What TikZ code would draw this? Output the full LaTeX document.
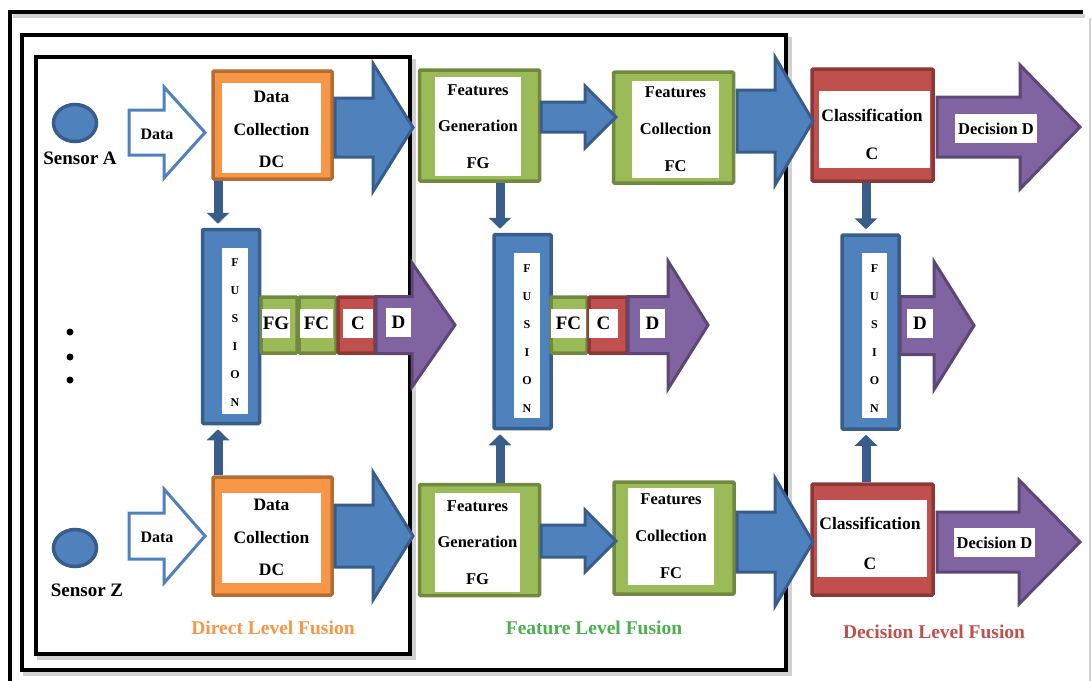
\documentclass[tikz,border=0pt]{standalone}
\usepackage{fontspec}
\setmainfont{Liberation Serif}
\usetikzlibrary{arrows.meta,shapes.geometric}

\definecolor{bluefill}{HTML}{4F81BD}
\definecolor{bluedark}{HTML}{385D8A}
\definecolor{orgfill}{HTML}{F79646}
\definecolor{orgdark}{HTML}{B66D31}
\definecolor{grnfill}{HTML}{9BBB59}
\definecolor{grndark}{HTML}{71893F}
\definecolor{redfill}{HTML}{C0504D}
\definecolor{reddark}{HTML}{8C3836}
\definecolor{purfill}{HTML}{8064A2}
\definecolor{purdark}{HTML}{5C4776}
\definecolor{featgreen}{HTML}{4CAF50}

% block arrow: style, start x, head x, tip x, centre y, body half-height, head half-height
\newcommand\blockarrow[7]{%
  \draw[#1] (#2,#5-#6) -- (#3,#5-#6) -- (#3,#5-#7) -- (#4,#5)
    -- (#3,#5+#7) -- (#3,#5+#6) -- (#2,#5+#6) -- cycle;}

\begin{document}
\begin{tikzpicture}[x=1pt,y=-1pt,
  frameline/.style={draw=black,line width=4pt},
  frameshadow/.style={draw=black!18,line width=4pt},
  bluearr/.style={fill=bluefill,draw=bluedark,line width=3pt},
  purarr/.style={fill=purfill,draw=purdark,line width=3pt},
  dataarr/.style={fill=white,draw=bluefill,line width=3pt},
  obox/.style={fill=orgfill,draw=orgdark,line width=3.5pt,rounded corners=1pt,inner sep=0pt},
  gbox/.style={fill=grnfill,draw=grndark,line width=3.5pt,rounded corners=1pt,inner sep=0pt},
  rbox/.style={fill=redfill,draw=reddark,line width=3.5pt,rounded corners=1pt,inner sep=0pt},
  fbox/.style={fill=bluefill,draw=bluedark,line width=3.5pt,rounded corners=1pt,inner sep=0pt,
    minimum width=57pt,minimum height=194pt},
  wbox/.style={fill=white,inner sep=0pt},
  lbl/.style={font=\bfseries\fontsize{16.5}{#1}\selectfont,align=center,inner sep=0pt},
  clbl/.style={font=\bfseries\fontsize{17.5}{#1}\selectfont,align=center,inner sep=0pt},
  flbl/.style={font=\bfseries\fontsize{12}{28}\selectfont,align=center,inner sep=0pt},
  chip/.style={fill=white,inner sep=0pt,minimum height=29pt,font=\bfseries\fontsize{19}{19}\selectfont},
  sensor/.style={ellipse,fill=bluefill,draw=bluedark,line width=3.5pt,minimum width=43pt,minimum height=37pt},
  sname/.style={fill=white,inner sep=2pt,font=\bfseries\fontsize{19}{19}\selectfont},
  level/.style={font=\bfseries\fontsize{19.5}{19.5}\selectfont},
  link/.style={draw=bluedark,line width=9pt,-{Triangle[width=22pt,length=11pt]}},
  dot/.style={circle,fill=black,inner sep=0pt,minimum size=7pt}
]
\useasboundingbox (0,0) rectangle (1092,680);

% ---- nested frames ----
\draw[frameshadow,line width=2pt] (1090,18) -- (1090,690);
\draw[frameshadow] (13,16) -- (1085,16);
\draw[frameline] (10,690) -- (10,12) -- (1083,12);

\draw[frameshadow] (25,39) rectangle (790,674);
\draw[frameline,fill=white] (22,35) rectangle (786,670);

\draw[frameshadow] (39,61) rectangle (414,658);
\draw[frameline,fill=white] (36,57) rectangle (410,654);

% ---- sensors ----
\node[sensor] (sa) at (75,123) {};
\node[sname] (san) at (80,158) {Sensor A};
\node[sensor] (sz) at (75,548) {};
\node[sname] (szn) at (87,590) {Sensor Z};

\node[dot] (d1) at (70,332) {};
\node[dot] (d2) at (70,357) {};
\node[dot] (d3) at (70,380) {};

% ---- data arrows ----
\blockarrow{dataarr}{129}{164}{205}{132.5}{22.5}{45.5}
\node[font=\bfseries\fontsize{16}{16}\selectfont] (da1) at (157,134) {Data};
\blockarrow{dataarr}{129}{164}{205}{536}{23}{47}
\node[font=\bfseries\fontsize{16}{16}\selectfont] (da2) at (157,537) {Data};

% ---- direct level: data collection ----
\node[obox,minimum width=119pt,minimum height=108pt] (dc1) at (272.5,125) {};
\node[wbox,minimum width=99pt,minimum height=90pt] (dc1w) at (271.5,128) {};
\node[clbl=32.5] (dc1t) at (271.5,129.5) {Data\\Collection\\DC};

\node[obox,minimum width=119pt,minimum height=118pt] (dc2) at (272.5,536) {};
\node[wbox,minimum width=99pt,minimum height=90pt] (dc2w) at (271.5,538) {};
\node[clbl=32.5] (dc2t) at (271.5,537.5) {Data\\Collection\\DC};

% ---- feature level boxes ----
\node[gbox,minimum width=120pt,minimum height=111pt] (fg1) at (479.5,125.5) {};
\node[wbox,minimum width=86pt,minimum height=99pt] (fg1w) at (478,126.5) {};
\node[lbl=36.5] (fg1t) at (478,126.5) {Features\\Generation\\FG};

\node[gbox,minimum width=120pt,minimum height=111pt] (fc1) at (673.5,127.5) {};
\node[wbox,minimum width=87pt,minimum height=97pt] (fc1w) at (675.5,129.5) {};
\node[lbl=37] (fc1t) at (675.5,129) {Features\\Collection\\FC};

\node[gbox,minimum width=120pt,minimum height=111pt] (fg2) at (479.5,540) {};
\node[wbox,minimum width=85pt,minimum height=99pt] (fg2w) at (477.5,542.5) {};
\node[lbl=36.5] (fg2t) at (477.5,542.5) {Features\\Generation\\FG};

\node[gbox,minimum width=120pt,minimum height=112pt] (fc2) at (674,538) {};
\node[wbox,minimum width=86pt,minimum height=97pt] (fc2w) at (671,536.5) {};
\node[lbl=37] (fc2t) at (671,536) {Features\\Collection\\FC};

% ---- decision level boxes ----
\node[rbox,minimum width=121pt,minimum height=112pt] (cl1) at (872.5,125) {};
\node[wbox,minimum width=111pt,minimum height=77pt] (cl1w) at (874.5,129.5) {};
\node[clbl=38] (cl1t) at (872,134) {Classification\\C};

\node[rbox,minimum width=121pt,minimum height=111pt] (cl2) at (872.5,539.5) {};
\node[wbox,minimum width=110pt,minimum height=77pt] (cl2w) at (872,538.5) {};
\node[clbl=40] (cl2t) at (870,543) {Classification\\C};

% ---- block arrows between stages ----
\blockarrow{bluearr}{335}{373}{413}{127.5}{29.5}{64}
\blockarrow{bluearr}{541}{585}{616}{117}{15}{31}
\blockarrow{bluearr}{737}{775}{813}{121}{31}{64}
\blockarrow{purarr}{937}{1020}{1080}{127}{30}{62}
\node[wbox,minimum width=82pt,minimum height=29pt,font=\bfseries\fontsize{16.5}{16.5}\selectfont] (dd1) at (996,128.5) {Decision D};

\blockarrow{bluearr}{335}{373}{413}{536}{31}{64}
\blockarrow{bluearr}{541}{585}{616}{541}{16}{31}
\blockarrow{bluearr}{737}{775}{813}{542}{30}{64}
\blockarrow{purarr}{937}{1019}{1080}{542}{30}{62}
\node[wbox,minimum width=81pt,minimum height=29pt,font=\bfseries\fontsize{16.5}{16.5}\selectfont] (dd2) at (994.5,542.5) {Decision D};

% ---- fusion columns ----
\node[fbox] (fus1) at (231,326.5) {};
\node[wbox,minimum width=26pt,minimum height=166pt] (fus1w) at (235,331) {};
\node[flbl] (fus1t) at (235,333) {F\\U\\S\\I\\O\\N};

\node[fbox] (fus2) at (522.5,331.5) {};
\node[wbox,minimum width=26pt,minimum height=165pt] (fus2w) at (527,335.5) {};
\node[flbl] (fus2t) at (527,339) {F\\U\\S\\I\\O\\N};

\node[fbox] (fus3) at (870.5,332) {};
\node[wbox,minimum width=25pt,minimum height=165pt] (fus3w) at (874.5,335.5) {};
\node[flbl] (fus3t) at (874.5,339) {F\\U\\S\\I\\O\\N};

% ---- links into the fusion columns ----
\draw[link] (dc1.south -| 218,0) -- ([yshift=4pt]fus1.north -| 218,0);
\draw[link] (dc2.north -| 218,0) -- ([yshift=-4pt]fus1.south -| 218,0);
\draw[link] (fg1.south -| 500,0) -- ([yshift=4pt]fus2.north -| 500,0);
\draw[link] (fg2.north -| 500,0) -- ([yshift=-4pt]fus2.south -| 500,0);
\draw[link] (cl1.south -| 866,0) -- ([yshift=4pt]fus3.north -| 866,0);
\draw[link] (cl2.north -| 866,0) -- ([yshift=-4pt]fus3.south -| 866,0);

% ---- outputs of the fusion columns ----
\node[gbox,minimum width=36pt,minimum height=56pt] (c1fg) at (279,325) {};
\node[gbox,minimum width=37pt,minimum height=56pt] (c1fc) at (317.5,325) {};
\node[rbox,minimum width=37pt,minimum height=56pt] (c1c) at (356.5,325) {};
\blockarrow{purarr}{376}{412}{455}{325}{28.5}{62}
\node[chip,minimum width=28pt] (c1fgl) at (276,323) {FG};
\node[chip,minimum width=33pt] (c1fcl) at (316.5,323) {FC};
\node[chip,minimum width=30pt] (c1cl) at (358,323.5) {C};
\node[chip,minimum width=25pt] (c1dl) at (398.5,322) {D};

\node[gbox,minimum width=36pt,minimum height=56pt] (c2fc) at (569,325) {};
\node[rbox,minimum width=38pt,minimum height=56pt] (c2c) at (608,325) {};
\blockarrow{purarr}{628}{668}{708}{325}{28.5}{64}
\node[chip,minimum width=35pt] (c2fcl) at (568.5,323) {FC};
\node[chip,minimum width=29pt] (c2cl) at (603.5,323) {C};
\node[chip,minimum width=25pt] (c2dl) at (652.5,323) {D};

\blockarrow{purarr}{900}{934}{974}{325.5}{29}{64}
\node[chip,minimum width=26pt] (c3dl) at (920,323) {D};

% ---- level captions ----
\node[level,text=orgfill] (lv1) at (273,628) {Direct Level Fusion};
\node[level,text=featgreen] (lv2) at (594,628) {Feature Level Fusion};
\node[level,text=redfill] (lv3) at (934,632) {Decision Level Fusion};
\end{tikzpicture}
\end{document}
